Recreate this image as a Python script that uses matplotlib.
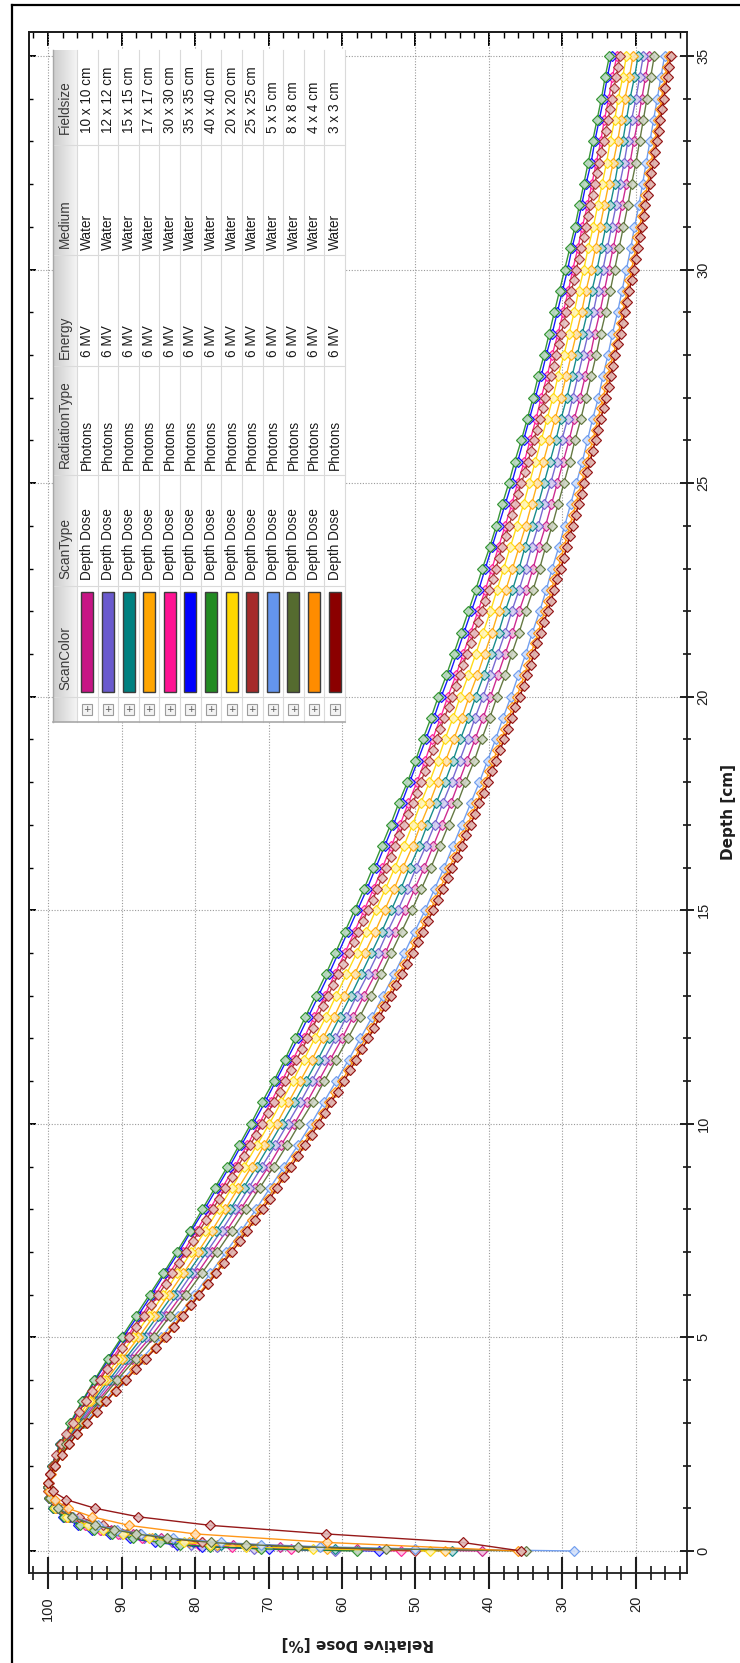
import numpy as np
import matplotlib
matplotlib.use("Agg")
import matplotlib.pyplot as plt
import matplotlib.colors as mcolors
from matplotlib.patches import Rectangle
from matplotlib.ticker import MultipleLocator, NullFormatter

# scan grids [cm]
depth_build = [0.0, 0.05, 0.1, 0.15, 0.2, 0.3, 0.4, 0.5, 0.6, 0.8, 1.0, 1.25, 1.5]
depth_build_fine = [0.0, 0.2, 0.4, 0.6, 0.8, 1.0, 1.2, 1.4, 1.6, 1.8]
depth_coarse = np.concatenate([depth_build, np.arange(2.0, 35.01, 0.5)])
depth_dense = np.concatenate([depth_build_fine, np.arange(2.0, 35.01, 0.25)])

# relative dose [%], 0.5 cm scans
pdd_10x10 = [41, 58, 68.5, 74.8, 79.0, 84.6, 88.5, 91.5, 93.9, 97.0, 98.8, 99.7, 100,
             99.2, 97.6, 95.5, 93.3, 90.9, 88.6,
             86.1, 83.9, 81.8, 79.7, 77.7, 75.7, 73.8, 71.9, 70.0, 68.3,
             66.5, 64.8, 63.2, 61.6, 60.0, 58.5, 57.0, 55.5, 54.1, 52.8,
             51.4, 50.1, 48.8, 47.6, 46.4, 45.2, 44.1, 43.0, 41.9, 40.8,
             39.8, 38.8, 37.8, 36.8, 35.9, 34.9, 34.0, 33.2, 32.3, 31.5,
             30.7, 29.9, 29.1, 28.4, 27.6, 26.9, 26.2, 25.6, 24.9, 24.3,
             23.7, 23.1, 22.5, 21.9, 21.3, 20.8, 20.3, 19.7, 19.2, 18.7,
             18.2]
pdd_12x12 = [61, 72, 77, 80.5, 83.2, 87.0, 90.2, 92.8, 94.8, 97.5, 99.0, 99.8, 100,
             99.2, 97.7, 95.7, 93.6, 91.3, 89.1,
             86.7, 84.6, 82.4, 80.4, 78.4, 76.4, 74.5, 72.7, 70.9, 69.1,
             67.4, 65.7, 64.1, 62.5, 60.9, 59.4, 58.0, 56.5, 55.1, 53.8,
             52.4, 51.1, 49.9, 48.6, 47.4, 46.3, 45.1, 44.0, 42.9, 41.9,
             40.8, 39.8, 38.8, 37.8, 36.9, 35.9, 35.0, 34.2, 33.3, 32.5,
             31.6, 30.8, 30.1, 29.3, 28.6, 27.9, 27.2, 26.5, 25.8, 25.2,
             24.5, 23.9, 23.3, 22.7, 22.2, 21.6, 21.1, 20.6, 20.0, 19.5,
             19.0]
pdd_15x15 = [45, 61, 71, 76.5, 80.3, 85.5, 89.2, 92.0, 94.3, 97.2, 98.9, 99.8, 100,
             99.3, 97.8, 95.9, 93.9, 91.7, 89.5,
             87.2, 85.1, 83.0, 81.0, 79.0, 77.1, 75.2, 73.4, 71.6, 69.9,
             68.2, 66.5, 64.9, 63.3, 61.8, 60.3, 58.8, 57.4, 56.0, 54.6,
             53.3, 52.0, 50.8, 49.5, 48.4, 47.2, 46.0, 44.9, 43.9, 42.8,
             41.8, 40.7, 39.7, 38.7, 37.8, 36.8, 35.9, 35.1, 34.2, 33.3,
             32.5, 31.7, 30.9, 30.2, 29.4, 28.7, 28.0, 27.3, 26.6, 26.0,
             25.3, 24.7, 24.1, 23.5, 22.9, 22.4, 21.8, 21.3, 20.8, 20.2,
             19.7]
pdd_17x17 = [46, 62, 71.5, 77, 80.8, 85.8, 89.4, 92.2, 94.4, 97.3, 98.9, 99.8, 100,
             99.3, 97.9, 96.1, 94.1, 92.1, 89.9,
             87.7, 85.6, 83.6, 81.6, 79.6, 77.7, 75.9, 74.1, 72.3, 70.6,
             68.9, 67.3, 65.7, 64.1, 62.6, 61.1, 59.7, 58.3, 56.9, 55.5,
             54.2, 52.9, 51.7, 50.4, 49.3, 48.1, 47.0, 45.9, 44.8, 43.7,
             42.7, 41.6, 40.6, 39.6, 38.7, 37.7, 36.8, 35.9, 35.0, 34.2,
             33.4, 32.6, 31.8, 31.0, 30.2, 29.5, 28.8, 28.1, 27.4, 26.8,
             26.1, 25.5, 24.9, 24.3, 23.7, 23.1, 22.5, 22.0, 21.5, 20.9,
             20.4]
pdd_30x30 = [52, 67, 75, 79.5, 82.8, 87.2, 90.5, 93.0, 95.0, 97.6, 99.1, 99.9, 100,
             99.4, 98.3, 96.7, 95.0, 93.2, 91.3,
             89.3, 87.3, 85.4, 83.5, 81.6, 79.8, 78.0, 76.3, 74.6, 72.9,
             71.3, 69.7, 68.2, 66.7, 65.2, 63.8, 62.3, 61.0, 59.6, 58.3,
             57.0, 55.7, 54.5, 53.3, 52.1, 51.0, 49.8, 48.7, 47.7, 46.6,
             45.6, 44.5, 43.5, 42.5, 41.5, 40.5, 39.6, 38.7, 37.8, 36.9,
             36.1, 35.2, 34.4, 33.6, 32.9, 32.1, 31.4, 30.6, 29.9, 29.2,
             28.6, 27.9, 27.3, 26.6, 26.0, 25.4, 24.8, 24.3, 23.7, 23.2,
             22.6]
pdd_35x35 = [55, 70, 79, 82.5, 85.5, 88.8, 91.6, 94.0, 95.9, 98.0, 99.3, 99.9, 100,
             99.5, 98.4, 96.9, 95.3, 93.6, 91.7,
             89.8, 87.8, 85.9, 84.1, 82.2, 80.5, 78.7, 77.0, 75.3, 73.7,
             72.1, 70.5, 69.0, 67.5, 66.0, 64.6, 63.2, 61.8, 60.5, 59.2,
             57.9, 56.6, 55.4, 54.2, 53.0, 51.9, 50.8, 49.7, 48.6, 47.5,
             46.5, 45.4, 44.4, 43.4, 42.4, 41.4, 40.5, 39.6, 38.7, 37.8,
             36.9, 36.1, 35.3, 34.5, 33.7, 32.9, 32.2, 31.4, 30.7, 30.0,
             29.3, 28.7, 28.0, 27.4, 26.8, 26.1, 25.6, 25.0, 24.4, 23.9,
             23.3]
pdd_40x40 = [58, 71, 78, 82, 84.8, 88.5, 91.3, 93.7, 95.6, 97.9, 99.3, 99.9, 100,
             99.5, 98.4, 97.0, 95.4, 93.7, 91.9,
             90.0, 88.1, 86.2, 84.3, 82.5, 80.7, 79.0, 77.3, 75.6, 74.0,
             72.4, 70.9, 69.3, 67.8, 66.4, 65.0, 63.6, 62.2, 60.9, 59.6,
             58.3, 57.0, 55.8, 54.6, 53.4, 52.3, 51.1, 50.0, 49.0, 47.9,
             46.9, 45.8, 44.8, 43.8, 42.8, 41.8, 40.9, 39.9, 39.0, 38.2,
             37.3, 36.5, 35.6, 34.8, 34.0, 33.3, 32.5, 31.8, 31.1, 30.4,
             29.7, 29.0, 28.3, 27.7, 27.1, 26.5, 25.9, 25.3, 24.7, 24.2,
             23.6]
pdd_20x20 = [48, 64, 73, 78, 81.5, 86.3, 89.8, 92.5, 94.6, 97.4, 99.0, 99.8, 100,
             99.4, 98.0, 96.4, 94.5, 92.5, 90.5,
             88.4, 86.3, 84.3, 82.4, 80.5, 78.6, 76.8, 75.0, 73.3, 71.6,
             69.9, 68.3, 66.7, 65.2, 63.7, 62.2, 60.8, 59.4, 58.0, 56.7,
             55.4, 54.1, 52.8, 51.6, 50.4, 49.3, 48.1, 47.0, 46.0, 44.9,
             43.9, 42.8, 41.8, 40.8, 39.8, 38.9, 38.0, 37.1, 36.2, 35.3,
             34.5, 33.7, 32.9, 32.1, 31.3, 30.6, 29.8, 29.1, 28.4, 27.8,
             27.1, 26.5, 25.8, 25.2, 24.6, 24.0, 23.5, 22.9, 22.4, 21.8,
             21.3]
pdd_5x5 = [28.4, 50, 63, 71, 76.5, 83.0, 87.3, 90.6, 93.2, 96.6, 98.6, 99.6, 100,
           99.1, 97.2, 95.0, 92.5, 89.9, 87.3,
           84.6, 82.3, 80.1, 77.9, 75.8, 73.7, 71.7, 69.8, 67.9, 66.0,
           64.2, 62.5, 60.8, 59.1, 57.5, 55.9, 54.4, 52.9, 51.5, 50.1,
           48.7, 47.4, 46.1, 44.9, 43.7, 42.5, 41.3, 40.2, 39.1, 38.1,
           37.0, 36.0, 35.0, 34.1, 33.1, 32.2, 31.4, 30.5, 29.7, 28.9,
           28.1, 27.3, 26.6, 25.9, 25.1, 24.5, 23.8, 23.2, 22.5, 21.9,
           21.3, 20.7, 20.2, 19.6, 19.1, 18.6, 18.1, 17.6, 17.1, 16.6,
           16.1]
pdd_8x8 = [35, 54, 66, 73, 77.8, 83.8, 88.0, 91.1, 93.6, 96.8, 98.7, 99.7, 100,
           99.1, 97.5, 95.3, 93.0, 90.6, 88.1,
           85.6, 83.4, 81.2, 79.1, 77.0, 75.0, 73.1, 71.2, 69.3, 67.5,
           65.8, 64.0, 62.4, 60.8, 59.2, 57.6, 56.1, 54.7, 53.3, 51.9,
           50.5, 49.2, 47.9, 46.7, 45.5, 44.3, 43.2, 42.0, 41.0, 39.9,
           38.9, 37.8, 36.9, 35.9, 35.0, 34.0, 33.1, 32.3, 31.4, 30.6,
           29.8, 29.0, 28.3, 27.5, 26.8, 26.1, 25.4, 24.8, 24.1, 23.5,
           22.9, 22.3, 21.7, 21.1, 20.6, 20.0, 19.5, 19.0, 18.5, 18.0,
           17.5]

# relative dose [%], 0.25 cm scans
pdd_25x25 = [50.0, 79.0, 87.5, 92.5, 95.8, 98.0, 99.4, 100.0, 99.9, 99.7,
             99.4, 98.9, 98.2, 97.5, 96.6, 95.8, 94.9, 94.0, 93.0, 92.0, 91.0, 90.0,
             89.0, 88.0, 87.0, 86.0, 85.0, 84.0, 83.1, 82.2, 81.3, 80.3,
             79.4, 78.5, 77.6, 76.7, 75.9, 75.0, 74.2, 73.3, 72.5, 71.7,
             70.9, 70.1, 69.3, 68.5, 67.7, 67.0, 66.2, 65.4, 64.7, 64.0,
             63.3, 62.6, 61.9, 61.2, 60.5, 59.8, 59.1, 58.4, 57.8, 57.1,
             56.5, 55.8, 55.2, 54.6, 54.0, 53.4, 52.8, 52.2, 51.6, 51.0,
             50.4, 49.8, 49.3, 48.7, 48.2, 47.6, 47.1, 46.6, 46.1, 45.5,
             45.0, 44.5, 44.0, 43.5, 43.0, 42.5, 42.0, 41.5, 41.0, 40.5,
             40.0, 39.5, 39.1, 38.6, 38.2, 37.7, 37.3, 36.8, 36.4, 36.0,
             35.6, 35.1, 34.7, 34.3, 33.9, 33.5, 33.1, 32.7, 32.4, 32.0,
             31.6, 31.2, 30.9, 30.5, 30.2, 29.8, 29.5, 29.1, 28.8, 28.4,
             28.1, 27.8, 27.5, 27.1, 26.8, 26.5, 26.2, 25.9, 25.6, 25.3,
             25.0, 24.7, 24.4, 24.1, 23.8, 23.5, 23.3, 23.0, 22.7, 22.4,
             22.2]
pdd_4x4 = [36.0, 62.0, 80.0, 89.0, 94.0, 97.3, 99.1, 99.9, 100.0, 99.6,
           99.0, 98.1, 97.1, 96.0, 94.8, 93.5, 92.2, 90.9, 89.6, 88.3, 86.9, 85.5,
           84.2, 83.0, 81.9, 80.7, 79.6, 78.4, 77.3, 76.3, 75.3, 74.2,
           73.2, 72.2, 71.1, 70.1, 69.2, 68.2, 67.2, 66.3, 65.4, 64.4,
           63.5, 62.6, 61.8, 60.9, 60.0, 59.2, 58.4, 57.6, 56.8, 56.0,
           55.3, 54.5, 53.7, 53.0, 52.2, 51.5, 50.8, 50.1, 49.4, 48.7,
           48.0, 47.3, 46.7, 46.0, 45.4, 44.7, 44.1, 43.5, 42.9, 42.3,
           41.7, 41.1, 40.5, 40.0, 39.4, 38.9, 38.3, 37.8, 37.3, 36.8,
           36.2, 35.7, 35.2, 34.7, 34.3, 33.8, 33.3, 32.9, 32.4, 31.9,
           31.5, 31.1, 30.6, 30.2, 29.8, 29.4, 29.0, 28.6, 28.2, 27.8,
           27.4, 27.0, 26.6, 26.3, 25.9, 25.5, 25.2, 24.8, 24.5, 24.1,
           23.8, 23.5, 23.1, 22.7, 22.4, 22.1, 21.8, 21.5, 21.2, 20.9,
           20.6, 20.3, 20.0, 19.8, 19.5, 19.2, 19.0, 18.7, 18.4, 18.2,
           17.9, 17.7, 17.4, 17.2, 17.0, 16.7, 16.5, 16.3, 16.0, 15.8,
           15.5]
pdd_3x3 = [35.6, 43.6, 62.2, 77.9, 87.7, 93.6, 97.5, 99.4, 100.0, 99.7,
           99.0, 98.1, 97.1, 96.0, 94.7, 93.4, 92.1, 90.8, 89.4, 88.1, 86.7, 85.3,
           84.0, 82.8, 81.7, 80.5, 79.4, 78.2, 77.1, 76.1, 75.0, 73.9,
           72.9, 71.9, 70.8, 69.8, 68.9, 67.9, 66.9, 66.0, 65.1, 64.1,
           63.2, 62.3, 61.5, 60.6, 59.7, 58.9, 58.1, 57.3, 56.4, 55.6,
           54.9, 54.1, 53.3, 52.6, 51.8, 51.1, 50.4, 49.7, 49.0, 48.3,
           47.6, 46.9, 46.3, 45.6, 45.0, 44.3, 43.7, 43.1, 42.5, 41.9,
           41.3, 40.7, 40.1, 39.6, 39.0, 38.5, 37.9, 37.4, 36.9, 36.4,
           35.8, 35.3, 34.8, 34.3, 33.9, 33.4, 32.9, 32.5, 32.0, 31.5,
           31.1, 30.7, 30.2, 29.8, 29.4, 29.0, 28.6, 28.2, 27.8, 27.4,
           27.0, 26.6, 26.2, 25.9, 25.5, 25.1, 24.8, 24.4, 24.1, 23.7,
           23.4, 23.1, 22.8, 22.4, 22.1, 21.8, 21.5, 21.2, 20.9, 20.6,
           20.3, 20.0, 19.7, 19.5, 19.2, 18.9, 18.7, 18.4, 18.1, 17.9,
           17.6, 17.4, 17.1, 16.9, 16.7, 16.4, 16.2, 16.0, 15.7, 15.5,
           15.2]

fieldsizes = ["10 x 10 cm", "12 x 12 cm", "15 x 15 cm", "17 x 17 cm", "30 x 30 cm",
              "35 x 35 cm", "40 x 40 cm", "20 x 20 cm", "25 x 25 cm", "5 x 5 cm",
              "8 x 8 cm", "4 x 4 cm", "3 x 3 cm"]
scan_colors = ["#C71585", "#6A5ACD", "#008080", "#FFA500", "#FF1493", "#0000FF",
               "#228B22", "#FFD700", "#A52A2A", "#6495ED", "#556B2F", "#FF8C00",
               "#8B0000"]
scan_doses = [pdd_10x10, pdd_12x12, pdd_15x15, pdd_17x17, pdd_30x30, pdd_35x35,
              pdd_40x40, pdd_20x20, pdd_25x25, pdd_5x5, pdd_8x8, pdd_4x4, pdd_3x3]
scan_depths = [depth_coarse] * 8 + [depth_dense] + [depth_coarse] * 2 + [depth_dense] * 2

table_headers = ["ScanColor", "ScanType", "RadiationType", "Energy", "Medium", "Fieldsize"]
scan_type = "Depth Dose"
radiation_type = "Photons"
energy = "6 MV"
medium = "Water"


def lighten(c, f=0.72):
    rgb = np.array(mcolors.to_rgb(c))
    return tuple(rgb + (1 - rgb) * f)


W, H = 740, 1663
fig = plt.figure(figsize=(W / 100, H / 100), dpi=100)
fig.patch.set_facecolor("white")

ax = fig.add_axes([29 / W, (H - 1573) / H, 658 / W, 1541 / H])
for dep, dose, col in zip(scan_depths, scan_doses, scan_colors):
    ax.plot(dose, dep, "-", color=col, lw=1.0, marker="D", ms=4.6,
            mfc=lighten(col), mec=col, mew=0.85, alpha=0.9)

ax.set_xlim(102.6, 13.05)
ax.set_ylim(-0.515, 35.56)

tick_font = {"family": "Liberation Sans", "size": 10.5}
ax.set_xticks(np.arange(20, 101, 10))
ax.xaxis.set_minor_locator(MultipleLocator(2))
ax.set_yticks(np.arange(0, 36, 5))
ax.yaxis.set_minor_locator(MultipleLocator(1))
ax.xaxis.set_ticks_position("bottom")
ax.yaxis.set_ticks_position("right")
ax.tick_params(axis="x", which="major", direction="inout", length=23, width=1.5,
               pad=5, labelrotation=90, colors="#1e1e1e")
ax.tick_params(axis="x", which="minor", direction="inout", length=10, width=1.1)
ax.tick_params(axis="y", which="major", direction="inout", length=10, width=1.4,
               pad=2, labelrotation=90, colors="#1e1e1e")
ax.tick_params(axis="y", which="minor", direction="inout", length=6, width=1.1)
for lbl in ax.get_xticklabels() + ax.get_yticklabels():
    lbl.set_fontfamily(tick_font["family"])
    lbl.set_fontsize(tick_font["size"])
for lbl in ax.get_yticklabels():
    lbl.set_va("center")

# inward ticks on the opposite spines
top = ax.secondary_xaxis("top")
top.set_xticks(np.arange(20, 101, 10))
top.xaxis.set_minor_locator(MultipleLocator(2))
top.xaxis.set_major_formatter(NullFormatter())
top.tick_params(which="major", direction="in", length=10, width=1.4)
top.tick_params(which="minor", direction="in", length=4.3, width=1.0)
left = ax.secondary_yaxis("left")
left.set_yticks(np.arange(0, 36, 5))
left.yaxis.set_minor_locator(MultipleLocator(1))
left.yaxis.set_major_formatter(NullFormatter())
left.tick_params(which="major", direction="in", length=5, width=1.4)
left.tick_params(which="minor", direction="in", length=3, width=1.0)
for a in (ax, top, left):
    for s in a.spines.values():
        s.set_linewidth(1.3)
        s.set_color("#1e1e1e")

ax.grid(True, which="major", color="#9a9a9a", linestyle=(0, (1, 1.5)), lw=0.8)

# overlay in pixel coordinates for the legend table and the labels
ov = fig.add_axes([0, 0, 1, 1], zorder=10)
ov.set_xlim(0, W)
ov.set_ylim(H, 0)
ov.axis("off")
ov.patch.set_alpha(0)

ov.text(728, 812, "Depth [cm]", rotation=90, ha="center", va="center",
        fontsize=11, fontweight="bold", family="DejaVu Sans", color="#1e1e1e")
ov.text(358, 1643, "Relative Dose [%]", rotation=180, ha="center", va="center",
        fontsize=11, fontweight="bold", family="DejaVu Sans", color="#1e1e1e")

# frame
ov.plot([12, 12], [H, 5], color="black", lw=1.6, solid_capstyle="projecting")
ov.plot([12, W], [5, 5], color="black", lw=1.6, solid_capstyle="projecting")

# legend table
tx0, tx1, hx = 53, 345, 77
row_w = (tx1 - hx) / len(fieldsizes)
col_edges = [50, 145, 255, 366, 475, 586, 697, 722]
ov.add_patch(Rectangle((tx0, col_edges[0]), tx1 - tx0, col_edges[-1] - col_edges[0],
                       facecolor="white", edgecolor="none"))
grad = np.linspace(0, 1, 32)[None, :]
ov.imshow(grad, extent=[tx0, hx, col_edges[-1], col_edges[0]], aspect="auto",
          cmap=mcolors.LinearSegmentedColormap.from_list("hdr", ["#cdcdcd", "#f4f4f4"]),
          zorder=1)
for k in range(len(fieldsizes) + 1):
    xk = hx + k * row_w
    ov.plot([xk, xk], [col_edges[0], col_edges[-1]], color="#dadada", lw=0.8, zorder=2)
for yc in col_edges[1:-1]:
    ov.plot([tx0, tx1], [yc, yc], color="#dadada", lw=0.8, zorder=2)
ov.plot([tx0, tx0], [col_edges[0], col_edges[-1]], color="#a8a8a8", lw=1.0, zorder=3)
ov.plot([tx0, tx1], [col_edges[-1], col_edges[-1]], color="#a8a8a8", lw=1.2, zorder=3)

txt_kw = dict(rotation=90, ha="center", va="bottom", fontsize=9.8,
              family="Liberation Sans", zorder=4)
hdr_bottoms = [col_edges[6], col_edges[5], col_edges[4], col_edges[3], col_edges[2], col_edges[1]]
for name, yb in zip(table_headers, hdr_bottoms):
    pad = 11 if name == "Fieldsize" else 7
    ov.text((tx0 + hx) / 2, yb - pad, name, color="#3a3a3a", **txt_kw)

for k, (fs, col) in enumerate(zip(fieldsizes, scan_colors)):
    xc = hx + (k + 0.5) * row_w
    ov.add_patch(Rectangle((xc - 6, col_edges[5] + 6), 12, col_edges[6] - col_edges[5] - 11,
                           facecolor=col, edgecolor="#3c3c3c", lw=1.0, zorder=4))
    ov.add_patch(Rectangle((xc - 5, col_edges[6] + 7), 10, 11, facecolor="#f3f3f3",
                           edgecolor="#9c9c9c", lw=0.8, zorder=4))
    ov.text(xc, col_edges[6] + 12.5, "+", ha="center", va="center", fontsize=6.5,
            color="#555555", zorder=5)
    ov.text(xc, col_edges[5] - 6, scan_type, color="#1a1a1a", **txt_kw)
    ov.text(xc, col_edges[4] - 5, radiation_type, color="#1a1a1a", **txt_kw)
    ov.text(xc, col_edges[3] - 9, energy, color="#1a1a1a", **txt_kw)
    ov.text(xc, col_edges[2] - 5, medium, color="#1a1a1a", **txt_kw)
    ov.text(xc, col_edges[1] - 12, fs, color="#1a1a1a", **txt_kw)

fig.savefig("out.png", dpi=100, facecolor="white")
